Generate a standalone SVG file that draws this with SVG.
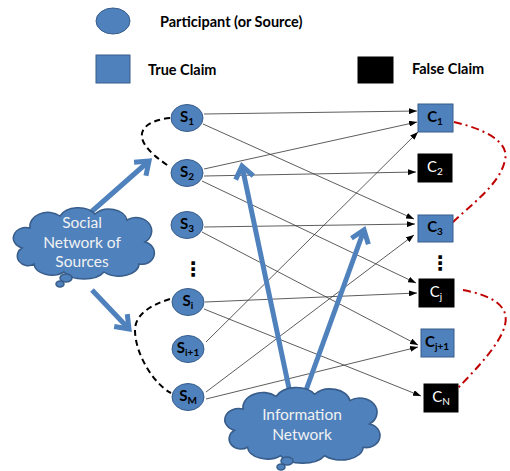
<svg xmlns="http://www.w3.org/2000/svg" width="510" height="471" viewBox="0 0 510 471">
<style>
.src{fill:#4F81BD;stroke:#385D8A;stroke-width:1}
.tc{fill:#4F81BD;stroke:#385D8A;stroke-width:1}
.fc{fill:#000;stroke:#000;stroke-width:1}
.lbl{font-family:Lato,"Liberation Sans",sans-serif;font-size:15px;text-anchor:middle}
.lb{font-weight:bold;fill:#000}
.lw{fill:#fff}
.leg{font-family:Lato,"Liberation Sans",sans-serif;font-size:14.5px;font-weight:bold;fill:#000}
.edge{stroke:#333;stroke-width:0.8;fill:none;marker-end:url(#ah)}
.big{stroke:#4F81BD;stroke-width:5;fill:none;marker-end:url(#bh)}
.cloud{fill:#4F81BD;stroke:#385D8A;stroke-width:1.5}
.ctext{font-family:Lato,"Liberation Sans",sans-serif;font-size:15.5px;fill:#F2F2F2;text-anchor:middle}
.blk{stroke:#000;stroke-width:2;fill:none;stroke-dasharray:6 4}
.red{stroke:#C00000;stroke-width:2;fill:none;stroke-dasharray:8 4 2 4}
.dots{font-family:"DejaVu Sans",sans-serif;font-size:20px;font-weight:bold;text-anchor:middle;fill:#000}
</style>
<defs>
<marker id="ah" markerUnits="userSpaceOnUse" markerWidth="8" markerHeight="6" refX="8" refY="3" orient="auto" viewBox="0 0 8 6"><path d="M0,0 L8,3 L0,6 z" fill="#000"/></marker>
<marker id="bh" markerUnits="userSpaceOnUse" markerWidth="24" markerHeight="24" refX="14" refY="12" orient="auto" viewBox="0 0 24 24" overflow="visible"><path d="M2,3 L14,12 L2,21" fill="none" stroke="#4F81BD" stroke-width="5"/></marker>
<path id="cloudshape" d="M22,248 a12,10 0 0 1 8,-20 a18,14 0 0 1 30,-12 a20,14 0 0 1 35,-2 a18,13 0 0 1 32,6 a14,12 0 0 1 18,22 a12,11 0 0 1 -6,22 a20,12 0 0 1 -35,8 a22,12 0 0 1 -40,0 a18,12 0 0 1 -30,-8 a10,9 0 0 1 -12,-16 z"/>
</defs>
<rect width="510" height="471" fill="#fff"/>

<g id="legend">
<ellipse cx="113" cy="21" rx="17" ry="13" class="src"/>
<text x="160" y="27" class="leg">Participant (or Source)</text>
<rect x="96" y="55" width="34" height="28" class="tc"/>
<text x="148" y="75" class="leg">True Claim</text>
<rect x="358" y="57" width="35" height="26" class="fc"/>
<text x="412" y="74" class="leg">False Claim</text>
</g>

<g id="connectors">
<line class="edge" x1="204" y1="114" x2="417" y2="111"/>
<line class="edge" x1="203" y1="124" x2="414" y2="219"/>
<line class="edge" x1="204" y1="169" x2="417" y2="122"/>
<line class="edge" x1="204" y1="176" x2="416" y2="172"/>
<line class="edge" x1="202" y1="181" x2="416" y2="283"/>
<line class="edge" x1="204" y1="227" x2="415" y2="224"/>
<line class="edge" x1="202" y1="232" x2="418" y2="345"/>
<line class="edge" x1="205" y1="302" x2="417" y2="293"/>
<line class="edge" x1="204" y1="309" x2="421" y2="396"/>
<line class="edge" x1="206" y1="342" x2="418" y2="132"/>
<line class="edge" x1="206" y1="392" x2="414" y2="235"/>
<line class="edge" x1="206" y1="399" x2="418" y2="347"/>
<path class="blk" d="M170,118 C150,120 140,128 142,138 C145,150 160,160 170,167"/>
<path class="blk" d="M170,299 C150,305 135,315 135,330 C135,355 155,385 171,393"/>
<path class="red" d="M454,122 C480,128 510,140 505,160 C500,185 470,205 450,225"/>
<path class="red" d="M463,290 C490,295 510,305 505,325 C500,345 475,370 458,388"/>
<line class="big" x1="90" y1="213" x2="149" y2="161"/>
<line class="big" x1="92" y1="290" x2="129" y2="329"/>
<line class="big" x1="290" y1="393" x2="242" y2="166"/>
<line class="big" x1="305" y1="393" x2="364" y2="230"/>
</g>

<g id="social-network">
<use href="#cloudshape" class="cloud"/>
<ellipse cx="66" cy="278" rx="6" ry="4" class="cloud"/>
<ellipse cx="60" cy="284" rx="4" ry="3" class="cloud"/>
<text x="82" y="228" class="ctext">Social</text>
<text x="82" y="248" class="ctext">Network of</text>
<text x="82" y="267" class="ctext">Sources</text>
</g>

<g id="information-network">
<use href="#cloudshape" class="cloud" transform="translate(302,425) scale(1.1,1.06) translate(-83.5,-243)"/>
<ellipse cx="287" cy="461" rx="6" ry="4" class="cloud"/>
<ellipse cx="281" cy="467" rx="4" ry="3" class="cloud"/>
<text x="302" y="420" class="ctext">Information</text>
<text x="302" y="440" class="ctext">Network</text>
</g>

<g id="S1"><ellipse cx="187" cy="118" rx="16" ry="13.5" class="src"/><text x="187" y="122" class="lbl lb">S<tspan font-size="10" dy="3">1</tspan></text></g>
<g id="S2"><ellipse cx="187" cy="173" rx="16" ry="13.5" class="src"/><text x="187" y="177" class="lbl lb">S<tspan font-size="10" dy="3">2</tspan></text></g>
<g id="S3"><ellipse cx="187" cy="225" rx="16" ry="13.5" class="src"/><text x="187" y="229" class="lbl lb">S<tspan font-size="10" dy="3">3</tspan></text></g>
<g id="Si"><ellipse cx="188" cy="302" rx="16" ry="13.5" class="src"/><text x="188" y="306" class="lbl lb">S<tspan font-size="10" dy="3">i</tspan></text></g>
<g id="Si1"><ellipse cx="188" cy="349" rx="16" ry="13.5" class="src"/><text x="188" y="353" class="lbl lb">S<tspan font-size="10" dy="3">i+1</tspan></text></g>
<g id="SM"><ellipse cx="188" cy="397" rx="16" ry="13.5" class="src"/><text x="188" y="401" class="lbl lb">S<tspan font-size="10" dy="3">M</tspan></text></g>
<g id="src-dots"><text x="193" y="276" class="dots">⋮</text></g>

<g id="C1"><rect x="418" y="104" width="35" height="28" class="tc"/><text x="435" y="122" class="lbl lb">C<tspan font-size="10" dy="3">1</tspan></text></g>
<g id="C2"><rect x="418" y="154" width="34" height="28" class="fc"/><text x="435" y="172" class="lbl lw">C<tspan font-size="10" dy="3">2</tspan></text></g>
<g id="C3"><rect x="418" y="215" width="35" height="27" class="tc"/><text x="435" y="232" class="lbl lb">C<tspan font-size="10" dy="3">3</tspan></text></g>
<g id="claim-dots"><text x="440" y="270" class="dots">⋮</text></g>
<g id="Cj"><rect x="419" y="279" width="35" height="28" class="fc"/><text x="436" y="297" class="lbl lw">C<tspan font-size="10" dy="3">j</tspan></text></g>
<g id="Cj1"><rect x="421" y="329" width="33" height="28" class="tc"/><text x="437" y="347" class="lbl lb">C<tspan font-size="10" dy="3">j+1</tspan></text></g>
<g id="CN"><rect x="424" y="384" width="34" height="28" class="fc"/><text x="441" y="402" class="lbl lw">C<tspan font-size="10" dy="3">N</tspan></text></g>
</svg>
